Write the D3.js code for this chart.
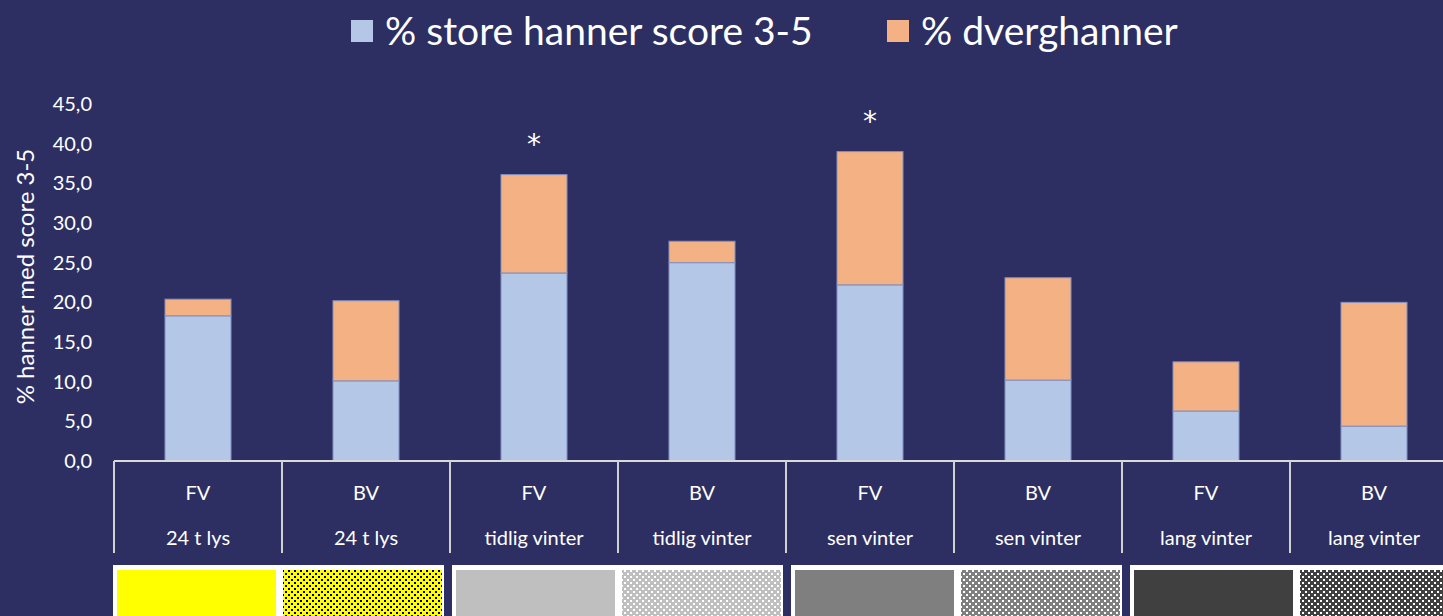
<!DOCTYPE html>
<html>
<head>
<meta charset="utf-8">
<script src="https://cdn.jsdelivr.net/npm/d3@7"></script>
<style>
  body { margin: 0; background: #2d2f63; }
  svg { display: block; font-family: Lato, "Open Sans", sans-serif; }
</style>
</head>
<body>
<div id="chart"></div>
<script>
// data
const groups = ["FV", "BV", "FV", "BV", "FV", "BV", "FV", "BV"]
const periods = ["24 t lys", "24 t lys", "tidlig vinter", "tidlig vinter", "sen vinter", "sen vinter", "lang vinter", "lang vinter"]
const store = [18.3, 10.1, 23.7, 25.0, 22.2, 10.2, 6.3, 4.4]
const dverg = [2.1, 10.1, 12.4, 2.7, 16.8, 12.9, 6.2, 15.6]
const marks = ["", "", "*", "", "*", "", "", ""]
const yTicks = [0, 5, 10, 15, 20, 25, 30, 35, 40, 45]
const seriesNames = ["% store hanner score 3-5", "% dverghanner"]
const seriesColors = ["#b4c7e7", "#f4b183"]
// swatches under the axis: fill and dot colour (dot "" = plain)
const swatchFill = ["#ffff00", "#ffff00", "#bfbfbf", "#bfbfbf", "#7f7f7f", "#7f7f7f", "#404040", "#404040"]
const swatchDot = ["", "#000000", "", "#ffffff", "", "#ffffff", "", "#ffffff"]

const W = 1443, H = 616
const margin = {top: 104, left: 114, bottom: 155}
const plotBottom = H - margin.bottom  // 461

const data = store.map((s, i) => ({i: i, store: s, dverg: dverg[i], mark: marks[i]}))

const svg = d3.select("#chart").append("svg")
    .attr("width", W)
    .attr("height", H)

svg.append("rect").attr("width", W).attr("height", H).attr("fill", "#2d2f63")

const idx = d3.range(groups.length)

const xCell = d3.scaleBand()
    .domain(idx)
    .range([margin.left, margin.left + 168 * groups.length])

const xBar = d3.scaleBand()
    .domain(idx)
    .range(xCell.range())
    .paddingInner(0.607)
    .paddingOuter(0.3035)

const y = d3.scaleLinear()
    .domain([0, 45])
    .range([plotBottom, margin.top])

const locale = d3.formatLocale({decimal: ",", thousands: " ", grouping: [3], currency: ["", ""]})
const fmt = locale.format(".1f")

// y axis labels only
const yAxis = d3.axisLeft(y).tickValues(yTicks).tickFormat(fmt).tickSize(0).tickPadding(0)
svg.append("g")
    .attr("class", "axis y-axis")
    .attr("transform", "translate(92,0)")
    .call(yAxis)
    .call(g => g.select(".domain").remove())
    .call(g => g.selectAll("text")
        .attr("fill", "#ffffff")
        .attr("font-size", 20)
        .attr("font-family", "Lato, sans-serif"))

svg.append("text")
    .attr("transform", "translate(34," + (y(22.5) - 6) + ") rotate(-90)")
    .attr("text-anchor", "middle")
    .attr("fill", "#ffffff")
    .attr("font-size", 24)
    .text("% hanner med score 3-5")

// stacked bars
const stack = d3.stack().keys(["store", "dverg"])
const layers = stack(data)

svg.selectAll(".layer")
    .data(layers)
  .enter().append("g")
    .attr("class", "layer")
    .attr("fill", (d, k) => seriesColors[k])
  .selectAll("rect")
    .data(d => d)
  .enter().append("rect")
    .attr("x", d => xBar(d.data.i))
    .attr("y", d => y(d[1]))
    .attr("width", xBar.bandwidth())
    .attr("height", d => y(d[0]) - y(d[1]))
    .attr("stroke", "#8190c0")
    .attr("stroke-width", 1)

// significance marks
svg.selectAll(".mark")
    .data(data.filter(d => d.mark))
  .enter().append("text")
    .attr("class", "mark")
    .attr("x", d => xBar(d.i) + xBar.bandwidth() / 2)
    .attr("y", d => y(d.store + d.dverg) - 21)
    .attr("text-anchor", "middle")
    .attr("fill", "#ffffff")
    .attr("font-family", "DejaVu Sans, sans-serif")
    .attr("font-size", 28)
    .text(d => d.mark)

// category axis: baseline + cell dividers + two label rows
const cat = svg.append("g").attr("class", "axis x-axis")
cat.append("line")
    .attr("x1", xCell.range()[0]).attr("x2", W)
    .attr("y1", plotBottom).attr("y2", plotBottom)
    .attr("stroke", "#d9d9d9").attr("stroke-width", 2)

cat.selectAll(".div")
    .data(idx)
  .enter().append("line")
    .attr("x1", d => xCell(d)).attr("x2", d => xCell(d))
    .attr("y1", plotBottom).attr("y2", plotBottom + 92)
    .attr("stroke", "#d0d0d0").attr("stroke-width", 2)

cat.selectAll(".g1")
    .data(idx)
  .enter().append("text")
    .attr("x", d => xCell(d) + xCell.bandwidth() / 2)
    .attr("y", plotBottom + 39)
    .attr("text-anchor", "middle")
    .attr("fill", "#ffffff")
    .attr("font-size", 20)
    .text(d => groups[d])

cat.selectAll(".g2")
    .data(idx)
  .enter().append("text")
    .attr("x", d => xCell(d) + xCell.bandwidth() / 2)
    .attr("y", plotBottom + 84)
    .attr("text-anchor", "middle")
    .attr("fill", "#ffffff")
    .attr("font-size", 20)
    .text(d => periods[d])

// dot patterns for swatches
const defs = svg.append("defs")
swatchDot.forEach((c, i) => {
  if (!c) return
  const p = defs.append("pattern")
      .attr("id", "dots" + i)
      .attr("width", 6).attr("height", 6)
      .attr("patternUnits", "userSpaceOnUse")
  p.append("rect").attr("width", 6).attr("height", 6).attr("fill", swatchFill[i])
  p.append("rect").attr("x", 0).attr("y", 0).attr("width", 2).attr("height", 2).attr("fill", c)
  p.append("rect").attr("x", 3).attr("y", 3).attr("width", 2).attr("height", 2).attr("fill", c)
})

// white frames, one per pair
const pairs = d3.range(groups.length / 2)
svg.selectAll(".frame")
    .data(pairs)
  .enter().append("rect")
    .attr("x", k => xCell(2 * k) + 3 * k - 1)
    .attr("y", 565)
    .attr("width", 2 * xCell.bandwidth() - 5)
    .attr("height", H - 565 + 10)
    .attr("fill", "#ffffff")

svg.selectAll(".swatch")
    .data(idx)
  .enter().append("rect")
    .attr("x", d => xCell(d) + 3 * Math.floor(d / 2) + (d % 2 ? 1 : 3))
    .attr("y", 570)
    .attr("width", xCell.bandwidth() - 9)
    .attr("height", H - 570 + 10)
    .attr("fill", d => swatchDot[d] ? "url(#dots" + d + ")" : swatchFill[d])

// legend
const legend = svg.append("g").attr("class", "legend")
const lx = [351, 887]
seriesNames.forEach((name, k) => {
  legend.append("rect")
      .attr("x", lx[k]).attr("y", 20)
      .attr("width", 22).attr("height", 22)
      .attr("fill", seriesColors[k])
  legend.append("text")
      .attr("x", lx[k] + 34).attr("y", 45)
      .attr("fill", "#ffffff")
      .attr("font-size", 39)
      .text(name)
})
</script>
</body>
</html>
